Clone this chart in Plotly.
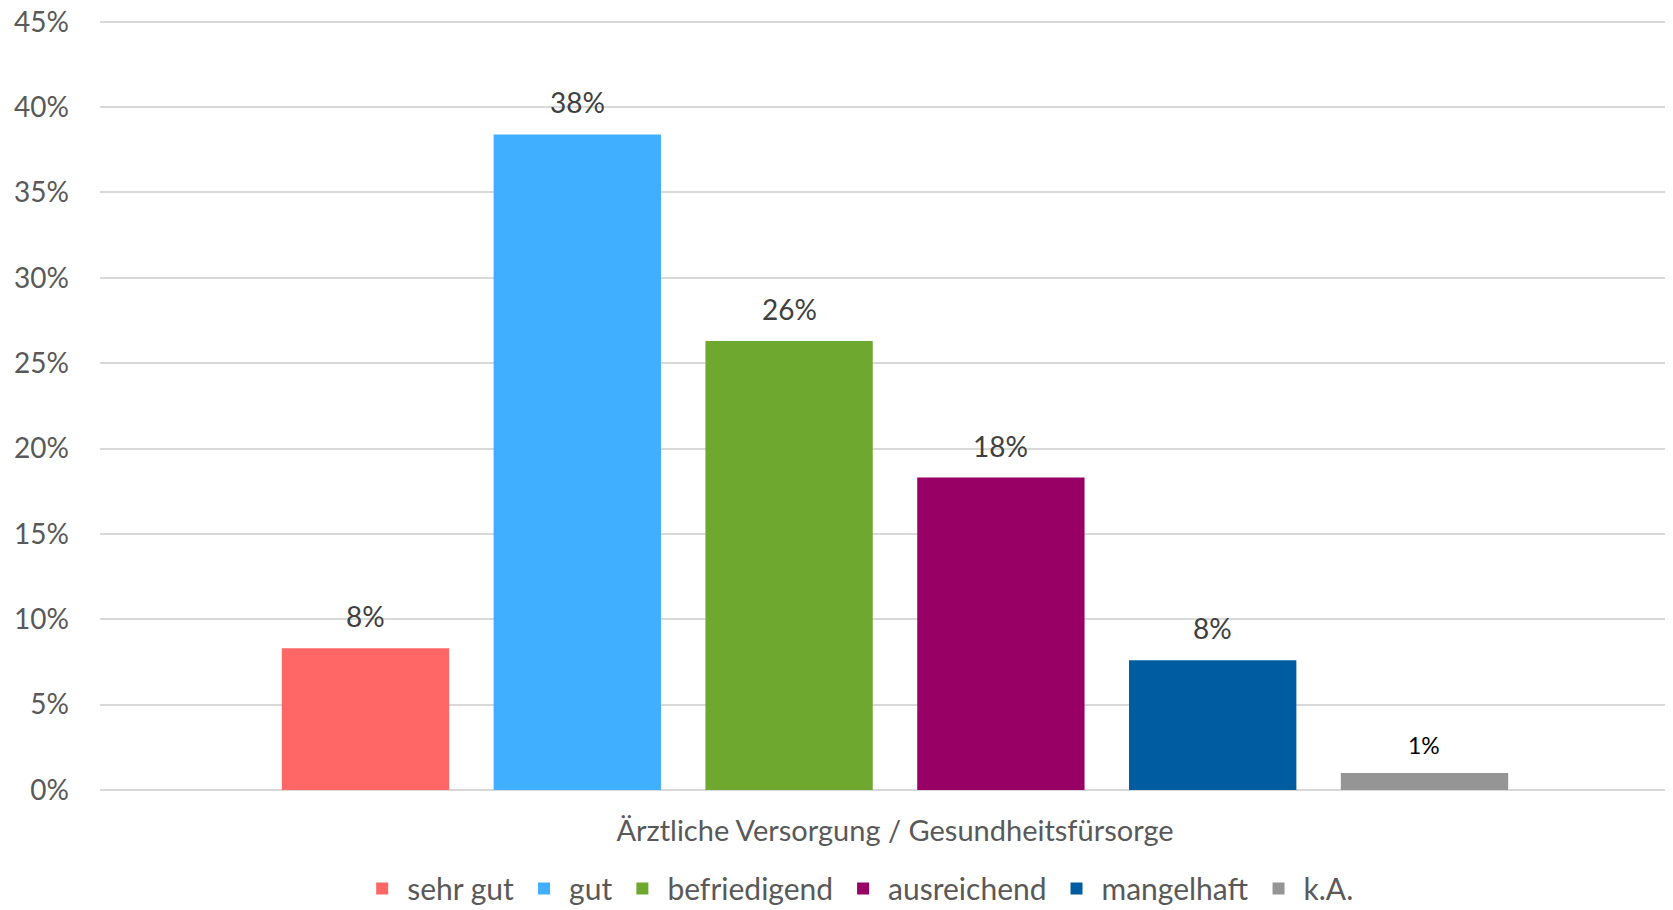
import plotly.graph_objects as go

# Data
category = "Ärztliche Versorgung / Gesundheitsfürsorge"
ratings = ["sehr gut", "gut", "befriedigend", "ausreichend", "mangelhaft", "k.A."]
shares = [8.3, 38.4, 26.3, 18.3, 7.6, 1.0]
colors = ["#FF6666", "#40AFFF", "#6FA82F", "#990066", "#005CA1", "#959595"]

font_family = "Lato, 'Open Sans', sans-serif"
positions = list(range(len(ratings)))

fig = go.Figure()

for pos, name, val, col in zip(positions, ratings, shares, colors):
    fig.add_trace(go.Bar(x=[pos], y=[val], name=name, marker=dict(color=col, line=dict(width=0)),
                         width=0.79, hoverinfo="name+y"))
    # data labels above the bars
    small = name == "k.A."
    fig.add_annotation(x=pos, y=val, text=f"{val:.0f}%", showarrow=False,
                       yanchor="bottom", yshift=12 if small else 13,
                       font=dict(family=font_family, size=23 if small else 28,
                                 color="#000000" if small else "#404040"))

# page body has an 8px margin, so the figure is a bit smaller than the window
fig.update_layout(
    width=1665, height=902,
    margin=dict(l=92, r=0, t=11.5, b=120.4, autoexpand=False),
    plot_bgcolor="white", paper_bgcolor="white",
    font=dict(family=font_family, size=28, color="#595959"),
    barmode="overlay",
    showlegend=True,
    legend=dict(orientation="h", x=0.482, xanchor="center", y=-0.128, yanchor="middle",
                font=dict(size=30, color="#595959"), traceorder="normal", itemwidth=40),
)
fig.update_xaxes(range=[-1.2535, 6.1733], tickvals=[2.5], ticktext=[category],
                 tickfont=dict(size=29),
                 showgrid=False, zeroline=False, showline=False, ticks="",
                 ticklabelstandoff=21, fixedrange=True)
fig.update_yaxes(range=[0, 45.1], tickmode="linear", tick0=0, dtick=5, ticksuffix="%",
                 showgrid=True, gridcolor="#D9D9D9", gridwidth=2,
                 zeroline=True, zerolinecolor="#D9D9D9", zerolinewidth=2,
                 showline=False, ticks="", ticklabelstandoff=30, ticklabeloverflow="allow",
                 fixedrange=True)

fig.write_html("out.html")
